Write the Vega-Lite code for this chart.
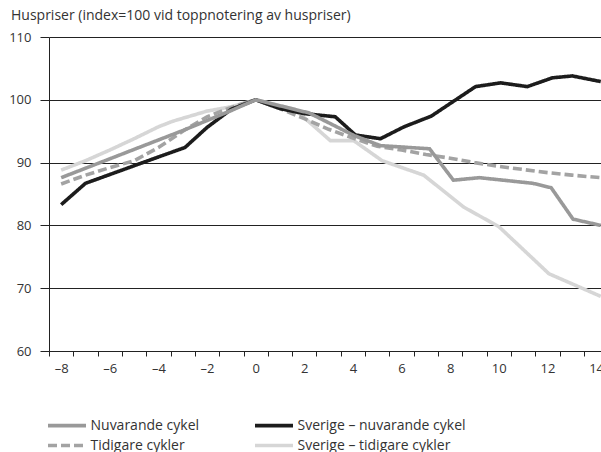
{
  "$schema": "https://vega.github.io/schema/vega-lite/v6.json",
  "autosize": {"type": "none"},
  "padding": {"left": 49, "top": 37, "right": 0, "bottom": 101},
  "width": 552,
  "height": 314,
  "background": "white",
  "config": {
    "font": "Open Sans",
    "view": {"stroke": null}
  },
  "title": {
    "text": "Huspriser (index=100 vid toppnotering av huspriser)",
    "anchor": "start",
    "frame": "group",
    "dx": -38,
    "offset": -3,
    "baseline": "alphabetic",
    "fontSize": 14,
    "fontWeight": "normal",
    "color": "#333333",
    "font": "Open Sans"
  },
  "data": {
    "values": [
      {"t": -8, "v": 88.8, "s": "Sverige – tidigare cykler"},
      {"t": -7, "v": 90.3, "s": "Sverige – tidigare cykler"},
      {"t": -6, "v": 92.0, "s": "Sverige – tidigare cykler"},
      {"t": -5, "v": 93.8, "s": "Sverige – tidigare cykler"},
      {"t": -4, "v": 95.7, "s": "Sverige – tidigare cykler"},
      {"t": -3.4, "v": 96.6, "s": "Sverige – tidigare cykler"},
      {"t": -2, "v": 98.2, "s": "Sverige – tidigare cykler"},
      {"t": -1, "v": 98.9, "s": "Sverige – tidigare cykler"},
      {"t": 0, "v": 100, "s": "Sverige – tidigare cykler"},
      {"t": 1.6, "v": 98.5, "s": "Sverige – tidigare cykler"},
      {"t": 3.07, "v": 93.5, "s": "Sverige – tidigare cykler"},
      {"t": 4.03, "v": 93.5, "s": "Sverige – tidigare cykler"},
      {"t": 5.2, "v": 90.3, "s": "Sverige – tidigare cykler"},
      {"t": 6.91, "v": 88.0, "s": "Sverige – tidigare cykler"},
      {"t": 8.56, "v": 82.9, "s": "Sverige – tidigare cykler"},
      {"t": 10.0, "v": 79.8, "s": "Sverige – tidigare cykler"},
      {"t": 12.06, "v": 72.3, "s": "Sverige – tidigare cykler"},
      {"t": 14.19, "v": 68.7, "s": "Sverige – tidigare cykler"},

      {"t": -8, "v": 86.6, "s": "Tidigare cykler"},
      {"t": -7, "v": 88.0, "s": "Tidigare cykler"},
      {"t": -6, "v": 89.2, "s": "Tidigare cykler"},
      {"t": -5, "v": 90.3, "s": "Tidigare cykler"},
      {"t": -4, "v": 92.4, "s": "Tidigare cykler"},
      {"t": -3, "v": 95.0, "s": "Tidigare cykler"},
      {"t": -2, "v": 97.3, "s": "Tidigare cykler"},
      {"t": -1, "v": 98.8, "s": "Tidigare cykler"},
      {"t": 0, "v": 100, "s": "Tidigare cykler"},
      {"t": 1, "v": 98.6, "s": "Tidigare cykler"},
      {"t": 2, "v": 97.0, "s": "Tidigare cykler"},
      {"t": 3, "v": 95.3, "s": "Tidigare cykler"},
      {"t": 4, "v": 93.9, "s": "Tidigare cykler"},
      {"t": 5, "v": 92.6, "s": "Tidigare cykler"},
      {"t": 6, "v": 92.0, "s": "Tidigare cykler"},
      {"t": 7, "v": 91.3, "s": "Tidigare cykler"},
      {"t": 8, "v": 90.7, "s": "Tidigare cykler"},
      {"t": 9, "v": 90.0, "s": "Tidigare cykler"},
      {"t": 10, "v": 89.4, "s": "Tidigare cykler"},
      {"t": 11, "v": 88.9, "s": "Tidigare cykler"},
      {"t": 12, "v": 88.4, "s": "Tidigare cykler"},
      {"t": 13, "v": 88.0, "s": "Tidigare cykler"},
      {"t": 14.19, "v": 87.6, "s": "Tidigare cykler"},

      {"t": -8, "v": 83.3, "s": "Sverige – nuvarande cykel"},
      {"t": -7, "v": 86.7, "s": "Sverige – nuvarande cykel"},
      {"t": -6, "v": 88.1, "s": "Sverige – nuvarande cykel"},
      {"t": -5, "v": 89.5, "s": "Sverige – nuvarande cykel"},
      {"t": -4, "v": 90.9, "s": "Sverige – nuvarande cykel"},
      {"t": -2.91, "v": 92.4, "s": "Sverige – nuvarande cykel"},
      {"t": -2, "v": 95.6, "s": "Sverige – nuvarande cykel"},
      {"t": -1, "v": 98.5, "s": "Sverige – nuvarande cykel"},
      {"t": 0, "v": 100, "s": "Sverige – nuvarande cykel"},
      {"t": 1, "v": 98.6, "s": "Sverige – nuvarande cykel"},
      {"t": 2, "v": 97.8, "s": "Sverige – nuvarande cykel"},
      {"t": 3.27, "v": 97.3, "s": "Sverige – nuvarande cykel"},
      {"t": 4.1, "v": 94.4, "s": "Sverige – nuvarande cykel"},
      {"t": 5.13, "v": 93.8, "s": "Sverige – nuvarande cykel"},
      {"t": 6.1, "v": 95.7, "s": "Sverige – nuvarande cykel"},
      {"t": 7.22, "v": 97.4, "s": "Sverige – nuvarande cykel"},
      {"t": 8.15, "v": 99.8, "s": "Sverige – nuvarande cykel"},
      {"t": 9.04, "v": 102.1, "s": "Sverige – nuvarande cykel"},
      {"t": 10.07, "v": 102.7, "s": "Sverige – nuvarande cykel"},
      {"t": 11.17, "v": 102.1, "s": "Sverige – nuvarande cykel"},
      {"t": 12.2, "v": 103.5, "s": "Sverige – nuvarande cykel"},
      {"t": 13.02, "v": 103.8, "s": "Sverige – nuvarande cykel"},
      {"t": 14.19, "v": 102.9, "s": "Sverige – nuvarande cykel"},

      {"t": -8, "v": 87.6, "s": "Nuvarande cykel"},
      {"t": -7, "v": 89.1, "s": "Nuvarande cykel"},
      {"t": -6, "v": 90.6, "s": "Nuvarande cykel"},
      {"t": -5, "v": 92.1, "s": "Nuvarande cykel"},
      {"t": -4, "v": 93.6, "s": "Nuvarande cykel"},
      {"t": -3, "v": 95.1, "s": "Nuvarande cykel"},
      {"t": -2, "v": 96.7, "s": "Nuvarande cykel"},
      {"t": -1, "v": 98.3, "s": "Nuvarande cykel"},
      {"t": 0, "v": 100, "s": "Nuvarande cykel"},
      {"t": 2.2, "v": 97.9, "s": "Nuvarande cykel"},
      {"t": 4.05, "v": 94.3, "s": "Nuvarande cykel"},
      {"t": 5.13, "v": 92.7, "s": "Nuvarande cykel"},
      {"t": 7.15, "v": 92.2, "s": "Nuvarande cykel"},
      {"t": 8.13, "v": 87.2, "s": "Nuvarande cykel"},
      {"t": 9.2, "v": 87.6, "s": "Nuvarande cykel"},
      {"t": 11.4, "v": 86.7, "s": "Nuvarande cykel"},
      {"t": 12.15, "v": 86.0, "s": "Nuvarande cykel"},
      {"t": 13.05, "v": 81.0, "s": "Nuvarande cykel"},
      {"t": 14.19, "v": 80.0, "s": "Nuvarande cykel"}
    ]
  },
  "mark": {"type": "line", "strokeWidth": 3.6, "clip": true},
  "encoding": {
    "x": {
      "field": "t",
      "type": "quantitative",
      "scale": {"domain": [-8.5, 14.2], "nice": false, "zero": false},
      "axis": {
        "title": null,
        "values": [-8.5, -7.5, -6.5, -5.5, -4.5, -3.5, -2.5, -1.5, -0.5, 0.5, 1.5, 2.5, 3.5, 4.5, 5.5, 6.5, 7.5, 8.5, 9.5, 10.5, 11.5, 12.5, 13.5],
        "labelExpr": "(datum.value + 0.5) % 2 == 0 ? ((datum.value + 0.5) < 0 ? '–' + format(abs(datum.value + 0.5), 'd') : format(datum.value + 0.5, 'd')) : ''",
        "labelOffset": 12.1,
        "labelFlush": false,
        "labelOverlap": false,
        "labelBound": false,
        "grid": false,
        "domainColor": "#222222",
        "domainWidth": 1,
        "tickColor": "#222222",
        "tickSize": 5,
        "labelFontSize": 13,
        "labelColor": "#333333",
        "labelPadding": 6
      }
    },
    "y": {
      "field": "v",
      "type": "quantitative",
      "scale": {"domain": [60, 110], "nice": false, "zero": false},
      "axis": {
        "title": null,
        "values": [60, 70, 80, 90, 100, 110],
        "grid": true,
        "gridColor": "#222222",
        "gridWidth": 1,
        "gridOpacity": 1,
        "domainColor": "#222222",
        "domainWidth": 1,
        "tickColor": "#222222",
        "tickSize": 9,
        "labelFontSize": 13,
        "labelColor": "#333333",
        "labelPadding": 9
      }
    },
    "color": {
      "field": "s",
      "type": "nominal",
      "sort": null,
      "scale": {
        "domain": ["Nuvarande cykel", "Sverige – nuvarande cykel", "Tidigare cykler", "Sverige – tidigare cykler"],
        "range": ["#999999", "#1c1c1c", "#a3a3a3", "#d6d6d6"]
      },
      "legend": {
        "title": null,
        "orient": "none",
        "legendX": 6.5,
        "legendY": 377,
        "direction": "horizontal",
        "columns": 2,
        "gridAlign": "each",
        "columnPadding": 48,
        "rowPadding": 1,
        "symbolType": "M-2,0H2",
        "symbolSize": 361,
        "symbolStrokeWidth": 3.6,
        "labelFontSize": 14,
        "labelColor": "#333333",
        "labelOffset": 12,
        "labelLimit": 300
      }
    },
    "strokeDash": {
      "field": "s",
      "type": "nominal",
      "sort": null,
      "scale": {
        "domain": ["Nuvarande cykel", "Sverige – nuvarande cykel", "Tidigare cykler", "Sverige – tidigare cykler"],
        "range": [[1, 0], [1, 0], [9, 4], [1, 0]]
      },
      "legend": null
    }
  }
}
